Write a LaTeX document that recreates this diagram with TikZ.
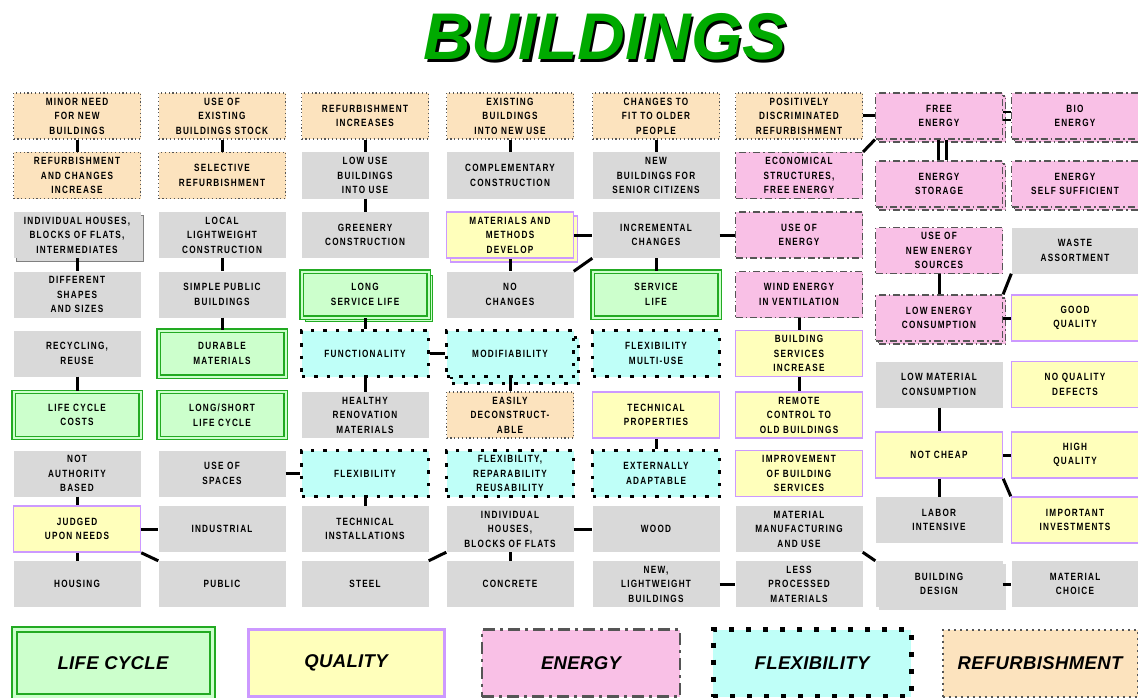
\documentclass[tikz,border=0pt]{standalone}
\usepackage{fontspec}
\setmainfont{Liberation Sans}
\newfontfamily\boxfont[FakeStretch=0.78,LetterSpace=12]{Liberation Sans Bold}
\newfontfamily\legfont[LetterSpace=2]{Liberation Sans}
\usetikzlibrary{shadows}
\definecolor{boxgrey}{HTML}{D9D9D9}
\definecolor{peach}{HTML}{FCE3BE}
\definecolor{dotc}{HTML}{555555}
\definecolor{lgreen}{HTML}{CCFFCC}
\definecolor{dgreen}{HTML}{22AA22}
\definecolor{lyellow}{HTML}{FFFFBB}
\definecolor{lpurple}{HTML}{CC99FF}
\definecolor{lpink}{HTML}{F9C0E6}
\definecolor{dashc}{HTML}{555555}
\definecolor{lcyan}{HTML}{BFFFF8}
\definecolor{titlegreen}{HTML}{00AA00}
\tikzset{
  base/.style={minimum width=127pt, minimum height=46pt, inner sep=1pt, align=center,
    font=\boxfont\fontsize{10.5}{14.5}\selectfont},
  greybox/.style={base, fill=boxgrey},
  refbox/.style={base, fill=peach, draw=dotc, line width=1.2pt, dash pattern=on 1.2pt off 2.6pt},
  lifebox/.style={base, fill=lgreen, draw=dgreen, line width=1.2pt, double=lgreen, double distance=2pt},
  qualbox/.style={base, fill=lyellow, draw=lpurple, line width=1.5pt},
  enerbox/.style={base, fill=lpink, draw=dashc, line width=1.2pt, dash pattern=on 7pt off 3pt on 1.5pt off 3pt},
  flexbox/.style={base, fill=lcyan, draw=black, line width=3.5pt, dash pattern=on 3.5pt off 9pt},
  twin/.style={copy shadow={shadow xshift=4pt, shadow yshift=-4pt}},
  twinsm/.style={copy shadow={shadow xshift=3pt, shadow yshift=-3pt}},
  conn/.style={line width=3pt, black},
  legtext/.style={font=\legfont\fontsize{18.5}{20}\selectfont\bfseries\itshape},
}
\begin{document}
\begin{tikzpicture}[x=1pt,y=-1pt]
\useasboundingbox (0,0) rectangle (1138,698);
% title with its drop shadow
\node[font=\fontsize{66}{70}\selectfont\bfseries\itshape, text=black] (titleshadow) at (607.5,39.5) {BUILDINGS};
\node[font=\fontsize{66}{70}\selectfont\bfseries\itshape, text=titlegreen] (title) at (605,37) {BUILDINGS};

% column 1
\node[refbox] (minor) at (77,116) {MINOR NEED\\FOR NEW\\BUILDINGS};
\node[refbox] (refchg) at (77,175.5) {REFURBISHMENT\\AND CHANGES\\INCREASE};
\node[greybox, general shadow={draw=gray, fill=boxgrey, line width=0.8pt, shadow xshift=3pt, shadow yshift=-3pt}] (indiv) at (77,235) {INDIVIDUAL HOUSES,\\BLOCKS OF FLATS,\\INTERMEDIATES};
\node[greybox] (shapes) at (77,294.5) {DIFFERENT\\SHAPES\\AND SIZES};
\node[greybox] (recyc) at (77,353.5) {RECYCLING,\\REUSE};
\node[lifebox] (lccost) at (77,415) {LIFE CYCLE\\COSTS};
\node[greybox] (notauth) at (77,473.5) {NOT\\AUTHORITY\\BASED};
\node[qualbox] (judged) at (77,529) {JUDGED\\UPON NEEDS};
\node[greybox] (housing) at (77,584) {HOUSING};

% column 2
\node[refbox] (useexist) at (222,116) {USE OF\\EXISTING\\BUILDINGS STOCK};
\node[refbox] (selective) at (222,175.5) {SELECTIVE\\REFURBISHMENT};
\node[greybox] (local) at (222,235) {LOCAL\\LIGHTWEIGHT\\CONSTRUCTION};
\node[greybox] (simplepub) at (222,294.5) {SIMPLE PUBLIC\\BUILDINGS};
\node[lifebox] (durable) at (222,353.5) {DURABLE\\MATERIALS};
\node[lifebox] (longshort) at (222,415) {LONG/SHORT\\LIFE CYCLE};
\node[greybox] (usespaces) at (222,473.5) {USE OF\\SPACES};
\node[greybox] (industrial) at (222,529) {INDUSTRIAL};
\node[greybox] (public) at (222,584) {PUBLIC};

% column 3
\node[refbox] (refinc) at (365,116) {REFURBISHMENT\\INCREASES};
\node[greybox] (lowuse) at (365,175.5) {LOW USE\\BUILDINGS\\INTO USE};
\node[greybox] (greenery) at (365,235) {GREENERY\\CONSTRUCTION};
\node[lifebox, twin] (longserv) at (365,294.5) {LONG\\SERVICE LIFE};
\node[flexbox] (functional) at (365,353.5) {FUNCTIONALITY};
\node[greybox] (healthy) at (365,415) {HEALTHY\\RENOVATION\\MATERIALS};
\node[flexbox] (flexibility) at (365,473.5) {FLEXIBILITY};
\node[greybox] (techinst) at (365,529) {TECHNICAL\\INSTALLATIONS};
\node[greybox] (steel) at (365,584) {STEEL};

% column 4
\node[refbox] (existing) at (510,116) {EXISTING\\BUILDINGS\\INTO NEW USE};
\node[greybox] (complementary) at (510,175.5) {COMPLEMENTARY\\CONSTRUCTION};
\node[qualbox, twin] (matmeth) at (510,235) {MATERIALS AND\\METHODS\\DEVELOP};
\node[greybox] (nochanges) at (510,294.5) {NO\\CHANGES};
\node[flexbox, copy shadow={shadow xshift=5pt, shadow yshift=-7pt}] (modif) at (510,353.5) {MODIFIABILITY};
\node[refbox] (easily) at (510,415) {EASILY\\DECONSTRUCT-\\ABLE};
\node[flexbox] (flexrep) at (510,473.5) {FLEXIBILITY,\\REPARABILITY\\REUSABILITY};
\node[greybox] (indivblocks) at (510,529) {INDIVIDUAL\\HOUSES,\\BLOCKS OF FLATS};
\node[greybox] (concrete) at (510,584) {CONCRETE};

% column 5
\node[refbox] (changesfit) at (656,116) {CHANGES TO\\FIT TO OLDER\\PEOPLE};
\node[greybox] (newbuild) at (656,175.5) {NEW\\BUILDINGS FOR\\SENIOR CITIZENS};
\node[greybox] (incremental) at (656,235) {INCREMENTAL\\CHANGES};
\node[lifebox] (servlife) at (656,294.5) {SERVICE\\LIFE};
\node[flexbox] (flexmulti) at (656,353.5) {FLEXIBILITY\\MULTI-USE};
\node[qualbox] (techprop) at (656,415) {TECHNICAL\\PROPERTIES};
\node[flexbox] (external) at (656,473.5) {EXTERNALLY\\ADAPTABLE};
\node[greybox] (wood) at (656,529) {WOOD};
\node[greybox] (newlight) at (656,584) {NEW,\\LIGHTWEIGHT\\BUILDINGS};

% column 6
\node[refbox] (positively) at (799,116) {POSITIVELY\\DISCRIMINATED\\REFURBISHMENT};
\node[enerbox] (economical) at (799,175.5) {ECONOMICAL\\STRUCTURES,\\FREE ENERGY};
\node[enerbox] (useenergy) at (799,235) {USE OF\\ENERGY};
\node[enerbox] (wind) at (799,294.5) {WIND ENERGY\\IN VENTILATION};
\node[qualbox] (bldserv) at (799,353.5) {BUILDING\\SERVICES\\INCREASE};
\node[qualbox] (remote) at (799,415) {REMOTE\\CONTROL TO\\OLD BUILDINGS};
\node[qualbox] (improvement) at (799,473.5) {IMPROVEMENT\\OF BUILDING\\SERVICES};
\node[greybox] (matmanuf) at (799,529) {MATERIAL\\MANUFACTURING\\AND USE};
\node[greybox] (lessproc) at (799,584) {LESS\\PROCESSED\\MATERIALS};

% column 7
\node[enerbox, twinsm] (free) at (939,116) {FREE\\ENERGY};
\node[enerbox, twinsm] (storage) at (939,184) {ENERGY\\STORAGE};
\node[enerbox] (newenergy) at (939,250.5) {USE OF\\NEW ENERGY\\SOURCES};
\node[enerbox, twinsm] (lowenergy) at (939,318) {LOW ENERGY\\CONSUMPTION};
\node[greybox] (lowmat) at (939,384.5) {LOW MATERIAL\\CONSUMPTION};
\node[qualbox] (notcheap) at (939,455) {NOT CHEAP};
\node[greybox] (labor) at (939,520) {LABOR\\INTENSIVE};
\node[greybox, general shadow={fill=boxgrey, draw=none, shadow xshift=3pt, shadow yshift=-3pt}] (blddesign) at (939,584) {BUILDING\\DESIGN};

% column 8
\node[enerbox, twinsm] (bio) at (1075,116) {BIO\\ENERGY};
\node[enerbox, twinsm] (selfsuff) at (1075,184) {ENERGY\\SELF SUFFICIENT};
\node[greybox] (waste) at (1075,250.5) {WASTE\\ASSORTMENT};
\node[qualbox] (good) at (1075,318) {GOOD\\QUALITY};
\node[qualbox] (noqual) at (1075,384.5) {NO QUALITY\\DEFECTS};
\node[qualbox] (high) at (1075,455) {HIGH\\QUALITY};
\node[qualbox] (important) at (1075,520) {IMPORTANT\\INVESTMENTS};
\node[greybox] (matchoice) at (1075,584) {MATERIAL\\CHOICE};

% connectors
\draw[conn] (minor) -- (refchg);
\draw[conn] (indiv) -- (shapes);
\draw[conn] (recyc) -- (lccost);
\draw[conn] (notauth) -- (judged);
\draw[conn] (judged) -- (housing);
\draw[conn] (judged) -- (industrial);
\draw[conn] (judged.south east) -- (public.north west);
\draw[conn] (useexist) -- (selective);
\draw[conn] (local) -- (simplepub);
\draw[conn] (simplepub) -- (durable);
\draw[conn] (usespaces) -- (flexibility);
\draw[conn] (refinc) -- (lowuse);
\draw[conn] (lowuse) -- (greenery);
\draw[conn] (longserv) -- (functional);
\draw[conn] (functional) -- (healthy);
\draw[conn] (functional) -- (modif);
\draw[conn] (flexibility) -- (techinst);
\draw[conn] (steel.north east) -- (indivblocks.south west);
\draw[conn] (existing) -- (complementary);
\draw[conn] (matmeth) -- (nochanges);
\draw[conn] (matmeth) -- (incremental);
\draw[conn] (nochanges.north east) -- (incremental.south west);
\draw[conn] (modif) -- (easily);
\draw[conn] (indivblocks) -- (concrete);
\draw[conn] (indivblocks) -- (wood);
\draw[conn] (changesfit) -- (newbuild);
\draw[conn] (incremental) -- (useenergy);
\draw[conn] (incremental) -- (servlife);
\draw[conn] (techprop) -- (external);
\draw[conn] (newlight) -- (lessproc);
\draw[conn] (positively) -- (free);
\draw[conn] (economical.north east) -- (free.south west);
\draw[conn] (wind) -- (bldserv);
\draw[conn] (bldserv) -- (remote);
\draw[conn] (matmanuf.south east) -- (blddesign.north west);
\draw[conn, line width=2.5pt] ([yshift=-4pt]free.east) -- ([yshift=-4pt]bio.west);
\draw[conn, line width=2.5pt] ([yshift=4pt]free.east) -- ([yshift=4pt]bio.west);
\draw[conn] ([xshift=-1pt]free.south) -- ([xshift=-1pt]storage.north);
\draw[conn] ([xshift=7pt]free.south) -- ([xshift=7pt]storage.north);
\draw[conn] (newenergy) -- (lowenergy);
\draw[conn] (lowenergy.north east) -- (waste.south west);
\draw[conn] (lowenergy) -- (good);
\draw[conn] (lowmat) -- (notcheap);
\draw[conn] (notcheap) -- (high);
\draw[conn] (notcheap) -- (labor);
\draw[conn] (notcheap.south east) -- (important.north west);
\draw[conn] (blddesign) -- (matchoice);

% legend
\node[lifebox, legtext, minimum width=198pt, minimum height=67pt, line width=2pt, double distance=3pt] (leglife) at (113,663) {LIFE CYCLE};
\node[qualbox, legtext, minimum width=196pt, minimum height=67pt, line width=3pt] (legqual) at (346,663) {QUALITY};
\node[enerbox, legtext, minimum width=198pt, minimum height=67pt, line width=2.5pt, dash pattern=on 12pt off 5pt on 3pt off 5pt] (legener) at (581,663) {ENERGY};
\node[flexbox, legtext, minimum width=198pt, minimum height=67pt, line width=5pt, dash pattern=on 5pt off 12pt] (legflex) at (812,663) {FLEXIBILITY};
\node[refbox, legtext, minimum width=195pt, minimum height=67pt, line width=2pt, dash pattern=on 2pt off 4pt] (legref) at (1040,663) {REFURBISHMENT};
\end{tikzpicture}
\end{document}
